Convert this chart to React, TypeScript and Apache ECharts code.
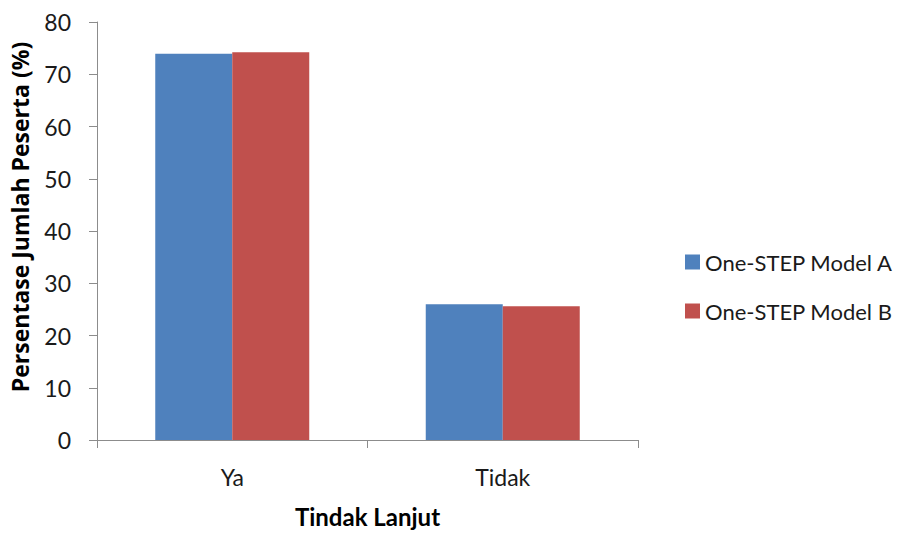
import React, { useEffect, useRef } from "react";
import * as echarts from "echarts";

const categories = ["Ya", "Tidak"];
const modelA = [73.9, 26.0];
const modelB = [74.2, 25.6];
const seriesNames = ["One-STEP Model A", "One-STEP Model B"];
const yTicks = { min: 0, max: 80, interval: 10 };
const xTitle = "Tindak Lanjut";
const yTitle = "Persentase Jumlah Peserta (%)";

const FONT = "Lato, 'Open Sans', sans-serif";

export default function App() {
  const ref = useRef<HTMLDivElement>(null);
  useEffect(() => {
    if (!ref.current) return;
    const chart = echarts.init(ref.current, null, { renderer: "svg" });
    chart.setOption({
      animation: false,
      backgroundColor: "#ffffff",
      textStyle: { fontFamily: FONT },
      grid: { left: 97, right: 267, top: 22, bottom: 87, containLabel: false },
      legend: {
        orient: "vertical",
        left: 680,
        top: 245,
        itemWidth: 15,
        itemHeight: 15,
        itemGap: 25,
        icon: "rect",
        textStyle: { fontSize: 22, lineHeight: 24, color: "#1a1a1a", fontFamily: FONT },
        data: seriesNames,
      },
      graphic: [
        {
          type: "text",
          x: 20,
          y: 217,
          rotation: Math.PI / 2,
          style: {
            text: yTitle,
            align: "center",
            verticalAlign: "middle",
            fontSize: 23,
            fontWeight: "bold",
            fill: "#000",
            fontFamily: "'Open Sans', sans-serif",
          },
        },
      ],
      xAxis: {
        type: "category",
        data: categories,
        name: xTitle,
        nameLocation: "middle",
        nameGap: 64,
        nameTextStyle: { fontSize: 24, fontWeight: "bold", color: "#000", fontFamily: FONT },
        axisLine: { lineStyle: { color: "#8c8c8c", width: 1 } },
        axisTick: { show: true, alignWithLabel: false, length: 8, lineStyle: { color: "#8c8c8c" } },
        axisLabel: { fontSize: 23, color: "#1a1a1a", margin: 25, fontFamily: FONT },
        splitLine: { show: false },
      },
      yAxis: {
        type: "value",
        min: yTicks.min,
        max: yTicks.max,
        interval: yTicks.interval,
        axisLine: { show: true, lineStyle: { color: "#8c8c8c", width: 1 } },
        axisTick: { show: true, length: 8, lineStyle: { color: "#8c8c8c" } },
        axisLabel: { fontSize: 23, color: "#1a1a1a", margin: 26, fontFamily: FONT },
        splitLine: { show: false },
      },
      series: [
        {
          name: seriesNames[0],
          type: "bar",
          data: modelA,
          barWidth: 77,
          barGap: "0%",
          itemStyle: { color: "#4f81bd" },
        },
        {
          name: seriesNames[1],
          type: "bar",
          data: modelB,
          barWidth: 77,
          barGap: "0%",
          itemStyle: { color: "#c0504d" },
        },
      ],
    });
    return () => chart.dispose();
  }, []);
  return (
    <div
      ref={ref}
      style={{ position: "fixed", left: 0, top: 0, width: 905, height: 533 }}
    />
  );
}
